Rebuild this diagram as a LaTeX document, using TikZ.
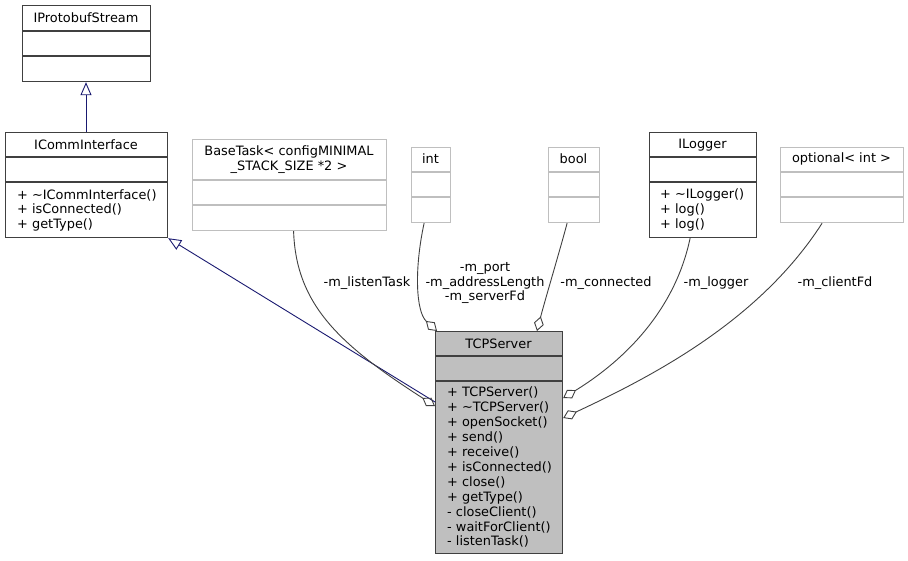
\documentclass[tikz,border=0pt]{standalone}
\usepackage{fontspec}
\setmainfont{DejaVu Sans}
\usetikzlibrary{arrows.meta,calc}
\definecolor{classgrey}{RGB}{191,191,191}
\definecolor{edgegrey}{RGB}{64,64,64}
\definecolor{inheritblue}{RGB}{25,25,112}

\begin{document}
\begin{tikzpicture}[
			x=1pt, y=-1pt,
			font=\fontsize{12.9}{14.9}\selectfont,
			classbox/.style={rectangle, draw=edgegrey, line width=1.2pt, anchor=north west, inner sep=0pt},
			greybox/.style={classbox, draw=classgrey},
			divider/.style={line width=1.2pt},
			members/.style={anchor=north west, align=left, inner sep=0pt},
			edgetext/.style={inner sep=0pt, align=center},
			usage/.style={edgegrey, line width=0.9pt, -{Diamond[open, length=15pt, width=10pt]}},
			inherit/.style={inheritblue, line width=0.9pt, -{Triangle[open, length=13pt, width=11pt]}}
			]
			\useasboundingbox (0,0) rectangle (908,560);
			% Classes
			\node[classbox, minimum width=128, minimum height=76] (proto) at (22,5) {};
			\node at (86,18) {IProtobufStream};
			\draw[divider, edgegrey] (proto.west |- 0,31) -- (proto.east |- 0,31);
			\draw[divider, edgegrey] (proto.west |- 0,56) -- (proto.east |- 0,56);
			
			\node[classbox, minimum width=162, minimum height=105] (comm) at (5,132) {};
			\node at (86,145) {ICommInterface};
			\draw[divider, edgegrey] (comm.west |- 0,157) -- (comm.east |- 0,157);
			\draw[divider, edgegrey] (comm.west |- 0,182) -- (comm.east |- 0,182);
			\node[members] at (17,189) {+ \textasciitilde ICommInterface()\\+ isConnected()\\+ getType()};
			
			\node[greybox, minimum width=194, minimum height=91] (base) at (192,139) {};
			\node[edgetext] at (289,160) {BaseTask< configMINIMAL\\\_STACK\_SIZE *2 >};
			\draw[divider, classgrey] (base.west |- 0,180) -- (base.east |- 0,180);
			\draw[divider, classgrey] (base.west |- 0,205) -- (base.east |- 0,205);
			
			\node[greybox, minimum width=39, minimum height=75] (int) at (411,147) {};
			\node at (430.5,159) {int};
			\draw[divider, classgrey] (int.west |- 0,172) -- (int.east |- 0,172);
			\draw[divider, classgrey] (int.west |- 0,197) -- (int.east |- 0,197);
			
			\node[greybox, minimum width=51, minimum height=75] (bool) at (548,147) {};
			\node at (573.5,159) {bool};
			\draw[divider, classgrey] (bool.west |- 0,172) -- (bool.east |- 0,172);
			\draw[divider, classgrey] (bool.west |- 0,197) -- (bool.east |- 0,197);
			
			\node[classbox, minimum width=107, minimum height=105] (logger) at (649,132) {};
			\node at (702.5,145) {ILogger};
			\draw[divider, edgegrey] (logger.west |- 0,157) -- (logger.east |- 0,157);
			\draw[divider, edgegrey] (logger.west |- 0,182) -- (logger.east |- 0,182);
			\node[members] at (660,189) {+ \textasciitilde ILogger()\\+ log()\\+ log()};
			
			\node[greybox, minimum width=123, minimum height=75] (optional) at (780,147) {};
			\node at (841.5,159) {optional< int >};
			\draw[divider, classgrey] (optional.west |- 0,172) -- (optional.east |- 0,172);
			\draw[divider, classgrey] (optional.west |- 0,197) -- (optional.east |- 0,197);
			
			\node[classbox, fill=classgrey, minimum width=127, minimum height=222] (server) at (435,331) {};
			\node at (498.5,344) {TCPServer};
			\draw[divider, edgegrey] (server.west |- 0,356) -- (server.east |- 0,356);
			\draw[divider, edgegrey] (server.west |- 0,381) -- (server.east |- 0,381);
			\node[members] at (447,387) {+ TCPServer()\\+ \textasciitilde TCPServer()\\+ openSocket()\\+ send()\\+ receive()\\+ isConnected()\\+ close()\\+ getType()\\- closeClient()\\- waitForClient()\\- listenTask()};
			
			% Inheritance
			\draw[inherit] (comm.north -| 86,0) -- (proto.south -| 86,0);
			\draw[inherit] (server.west |- 0,402) -- (comm.south east);
			
			% Members
			\draw[usage] ([xshift=4]base.south) .. controls (296,305) and (340,345) .. (server.west |- 0,406);
			\draw[usage] ([xshift=-7]int.south) .. controls (414,270) and (416,312) .. (server.north -| 437,0);
			\draw[usage] ([xshift=-7]bool.south) .. controls (560,250) and (545,300) .. (server.north -| 537,0);
			\draw[usage] ([xshift=-13]logger.south) .. controls (675,310) and (625,360) .. (server.east |- 0,398);
			\draw[usage] ([xshift=-20]optional.south) .. controls (760,320) and (655,375) .. (server.east |- 0,418);
			
			% Labels
			\node[edgetext] at (367,283) {-m\_listenTask};
			\node[edgetext] at (485,283) {-m\_port\\-m\_addressLength\\-m\_serverFd};
			\node[edgetext] at (606,283) {-m\_connected};
			\node[edgetext] at (716,283) {-m\_logger};
			\node[edgetext] at (835,283) {-m\_clientFd};
		\end{tikzpicture}
\end{document}
